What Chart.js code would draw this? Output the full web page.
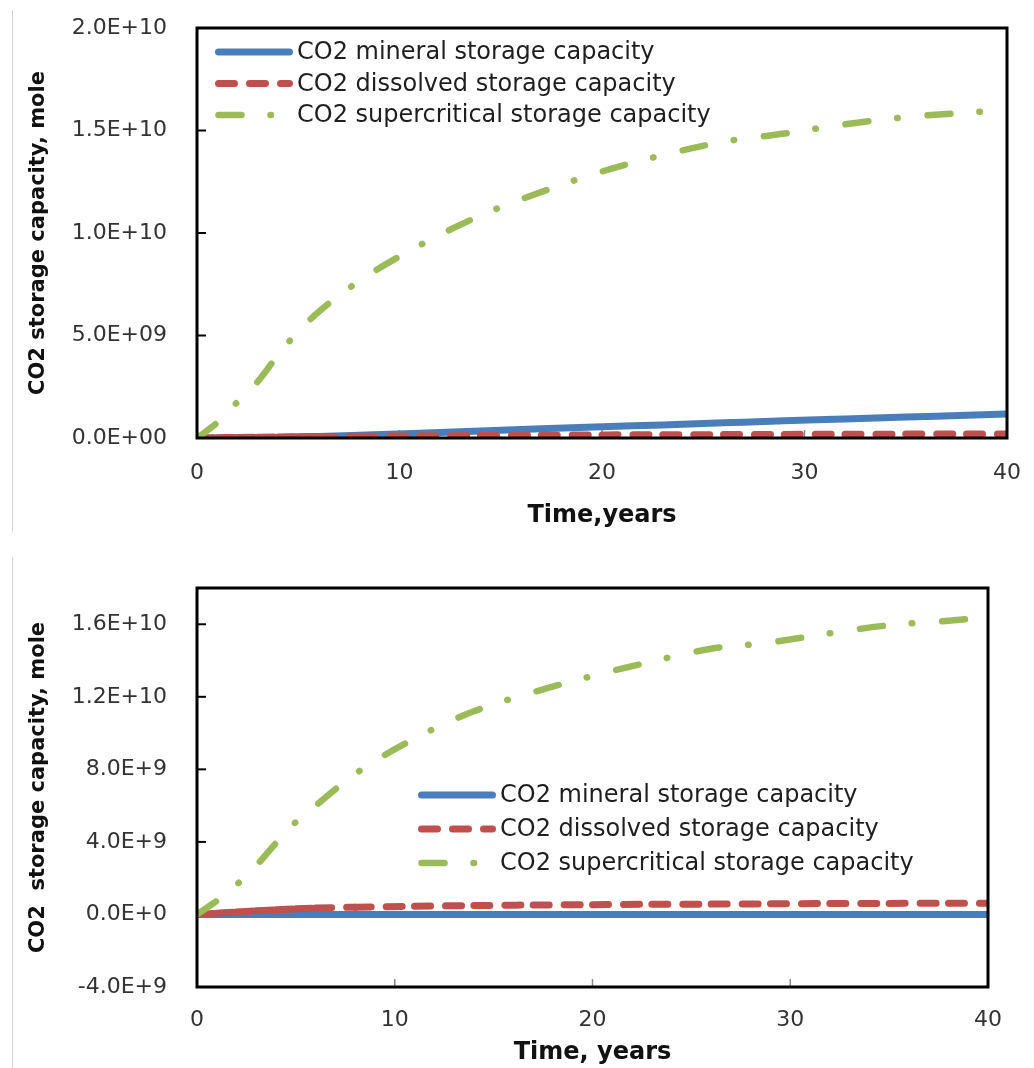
<!DOCTYPE html>
<html>
<head>
<meta charset="utf-8">
<script src="https://cdn.jsdelivr.net/npm/chart.js@4.4.1/dist/chart.umd.min.js"></script>
<style>
	body { margin: 0; background: #fff; }
	.panel { position: absolute; left: 0; width: 1034px; }
	#top { top: 0; height: 540px; }
	#bottom { top: 540px; height: 528px; }
	.edge { position: absolute; left: 12px; width: 1px; background: #d4d4d4; }
</style>
</head>
<body>
<div class="panel" id="top"><canvas id="chartTop" width="1034" height="540"></canvas></div>
<div class="panel" id="bottom"><canvas id="chartBottom" width="1034" height="528"></canvas></div>
<div class="edge" style="top:10px;height:522px"></div>
<div class="edge" style="top:557px;height:511px"></div>
<script>
const seriesNames = ['CO2 mineral storage capacity', 'CO2 dissolved storage capacity', 'CO2 supercritical storage capacity'];
const seriesColors = ['#4a7ebb', '#c0504d', '#9bbb59'];

// Top chart, values in 1E9 mole
const timeTop = [0, 1, 2, 3, 4, 5, 6, 8, 11, 14, 17, 20, 23, 26, 29, 32, 35, 38, 40];
const mineralTop = [0, 0, 0.01, 0.02, 0.03, 0.05, 0.07, 0.13, 0.23, 0.34, 0.45, 0.55, 0.64, 0.74, 0.84, 0.93, 1.02, 1.11, 1.17];
const dissolvedTop = [0, 0.015, 0.03, 0.04, 0.05, 0.06, 0.07, 0.085, 0.105, 0.12, 0.135, 0.15, 0.16, 0.165, 0.175, 0.185, 0.19, 0.2, 0.2];
const supercriticalTop = [0, 0.75, 1.76, 2.75, 4.05, 5.2, 6.15, 7.65, 9.4, 10.85, 12.0, 13.0, 13.8, 14.45, 14.85, 15.3, 15.65, 15.87, 16.0];
const yTicksTop = [0, 5, 10, 15, 20];
const yLabelsTop = ['0.0E+00', '5.0E+09', '1.0E+10', '1.5E+10', '2.0E+10'];

// Bottom chart, values in 1E9 mole
const timeBottom = [0, 1, 2, 3, 4, 5, 6, 8, 11, 14, 17, 20, 23, 26, 29, 32, 35, 38, 40];
const mineralBottom = [0, 0, 0, 0, 0, 0, 0, 0, 0, 0, 0, 0, 0, 0, 0, 0, 0, 0, 0];
const dissolvedBottom = [0, 0.07, 0.14, 0.2, 0.26, 0.31, 0.35, 0.4, 0.455, 0.49, 0.52, 0.54, 0.56, 0.57, 0.585, 0.6, 0.61, 0.62, 0.62];
const supercriticalBottom = [0, 0.75, 1.64, 2.7, 3.95, 5.1, 6.0, 7.75, 9.7, 11.2, 12.25, 13.15, 13.95, 14.65, 15.0, 15.5, 15.95, 16.2, 16.4];
const yTicksBottom = [-4, 0, 4, 8, 12, 16];
const yLabelsBottom = ['-4.0E+9', '0.0E+0', '4.0E+9', '8.0E+9', '1.2E+10', '1.6E+10'];

const xTicks = [0, 10, 20, 30, 40];

// solid, dashed, dash-dot; drawing order: green on top, blue at the bottom
const lineWidths = [7, 7, 6.5];
const lineDashes = [[], [16, 15], [23, 29, 0.5, 30]];
const drawOrder = [2, 1, 0];
// the dashed line restarts its pattern at every point (short early steps look solid)
const restartDash = [false, true, false];

// inside tick marks + black plot frame
const framePlugin = {
	id: 'frame',
	beforeDatasetsDraw(chart) {
		const { ctx, chartArea: a, scales } = chart;
		ctx.save();
		ctx.strokeStyle = '#000';
		ctx.lineWidth = 2;
		scales.y.ticks.forEach((t) => {
			const y = scales.y.getPixelForValue(t.value);
			ctx.beginPath();
			ctx.moveTo(a.left, y);
			ctx.lineTo(a.left + 9, y);
			ctx.stroke();
		});
		ctx.strokeStyle = '#888';
		ctx.lineWidth = 1.5;
		scales.x.ticks.forEach((t) => {
			const x = scales.x.getPixelForValue(t.value);
			ctx.beginPath();
			ctx.moveTo(x, a.bottom);
			ctx.lineTo(x, a.bottom - 8);
			ctx.stroke();
		});
		ctx.restore();
	},
	afterDatasetsDraw(chart) {
		const { ctx, chartArea: a } = chart;
		ctx.save();
		ctx.strokeStyle = '#000';
		ctx.lineWidth = 3;
		ctx.strokeRect(a.left, a.top, a.right - a.left, a.bottom - a.top);
		ctx.restore();
	},
};

// legend drawn inside the plot area
const boxLegendPlugin = {
	id: 'boxLegend',
	afterDraw(chart, args, opts) {
		const { ctx } = chart;
		ctx.save();
		ctx.font = opts.font;
		ctx.textBaseline = 'middle';
		chart.data.datasets.forEach((ds, i) => {
			const y = opts.y + i * opts.rowGap;
			ctx.strokeStyle = ds.borderColor;
			ctx.lineWidth = ds.borderWidth;
			ctx.lineCap = 'round';
			ctx.setLineDash(ds.borderDash);
			ctx.beginPath();
			ctx.moveTo(opts.x + 3.5, y);
			ctx.lineTo(opts.x + opts.sampleWidth - 3.5, y);
			ctx.stroke();
			ctx.setLineDash([]);
			ctx.fillStyle = '#1e1e1e';
			ctx.fillText(ds.label, opts.x + opts.sampleWidth + 4, y + 1);
		});
		ctx.restore();
	},
};

function makeDatasets(times, seriesList) {
	return seriesList.map((values, i) => {
		const ds = {
			label: seriesNames[i],
			data: times.map((t, j) => ({ x: t, y: values[j] })),
			order: drawOrder[i],
			borderColor: seriesColors[i],
			backgroundColor: seriesColors[i],
			borderWidth: lineWidths[i],
			borderDash: lineDashes[i],
			borderCapStyle: 'round',
			pointRadius: 0,
			cubicInterpolationMode: 'monotone',
			fill: false,
		};
		if (restartDash[i]) {
			// alternate a tiny offset so every segment is stroked on its own
			ds.segment = { borderDashOffset: (c) => (c.p0DataIndex % 2) * 0.001 };
		}
		return ds;
	});
}

function makeChart(canvasId, cfg) {
	const ctx = document.getElementById(canvasId).getContext('2d');
	return new Chart(ctx, {
		type: 'line',
		data: { datasets: makeDatasets(cfg.times, cfg.series) },
		options: {
			responsive: false,
			animation: false,
			devicePixelRatio: 1,
			events: [],
			layout: { padding: cfg.padding },
			scales: {
				x: {
					type: 'linear',
					min: 0,
					max: 40,
					grid: { display: false, drawTicks: false },
					border: { display: false },
					afterFit: (scale) => {
						scale.height = cfg.xAxisHeight;
						scale.paddingLeft = 0;
						scale.paddingRight = 0;
					},
					ticks: {
						stepSize: 10,
						padding: cfg.xLabelPad,
						color: '#333',
						font: { family: 'DejaVu Sans', size: 22 },
						callback: (v) => (xTicks.includes(v) ? String(v) : ''),
					},
					title: {
						display: true,
						text: cfg.xTitle,
						color: '#111',
						font: { family: 'DejaVu Sans', size: 24, weight: 'bold', lineHeight: 1.2 },
						padding: { top: 0, bottom: cfg.xTitlePad },
					},
				},
				y: {
					min: cfg.yMin,
					max: cfg.yMax,
					grid: { display: false, drawTicks: false },
					border: { display: false },
					afterFit: (scale) => {
						scale.width = 197;
						scale.paddingTop = 0;
						scale.paddingBottom = 0;
					},
					ticks: {
						stepSize: cfg.yStep,
						includeBounds: false,
						padding: 30,
						color: '#333',
						font: { family: 'DejaVu Sans', size: 22 },
						callback: (v) => {
							const i = cfg.yTicks.indexOf(v);
							return i >= 0 ? cfg.yLabels[i] : '';
						},
					},
					title: {
						display: true,
						text: cfg.yTitle,
						color: '#111',
						font: { family: 'DejaVu Sans', size: 21, weight: 'bold', lineHeight: 1.2 },
						padding: { top: 26, bottom: 0 },
					},
				},
			},
			plugins: {
				legend: { display: false },
				tooltip: { enabled: false },
				boxLegend: cfg.legend,
			},
		},
		plugins: [framePlugin, boxLegendPlugin],
	});
}

makeChart('chartTop', {
	times: timeTop,
	series: [mineralTop, dissolvedTop, supercriticalTop],
	yMin: 0,
	yMax: 20,
	yStep: 5,
	yTicks: yTicksTop,
	yLabels: yLabelsTop,
	xTitle: 'Time,years',
	yTitle: 'CO2 storage capacity, mole',
	padding: { left: 0, right: 27, top: 28, bottom: 0 },
	xAxisHeight: 102,
	xLabelPad: 22,
	xTitlePad: 10,
	legend: { x: 215, y: 52, rowGap: 31.5, sampleWidth: 78, font: '24px "DejaVu Sans"' },
});

makeChart('chartBottom', {
	times: timeBottom,
	series: [mineralBottom, dissolvedBottom, supercriticalBottom],
	yMin: -4,
	yMax: 18,
	yStep: 4,
	yTicks: yTicksBottom,
	yLabels: yLabelsBottom,
	xTitle: 'Time, years',
	yTitle: 'CO2  storage capacity, mole',
	padding: { left: 0, right: 46, top: 48, bottom: 0 },
	xAxisHeight: 81,
	xLabelPad: 20,
	xTitlePad: 1,
	legend: { x: 418, y: 255, rowGap: 34, sampleWidth: 78, font: '24px "DejaVu Sans"' },
});
</script>
</body>
</html>
